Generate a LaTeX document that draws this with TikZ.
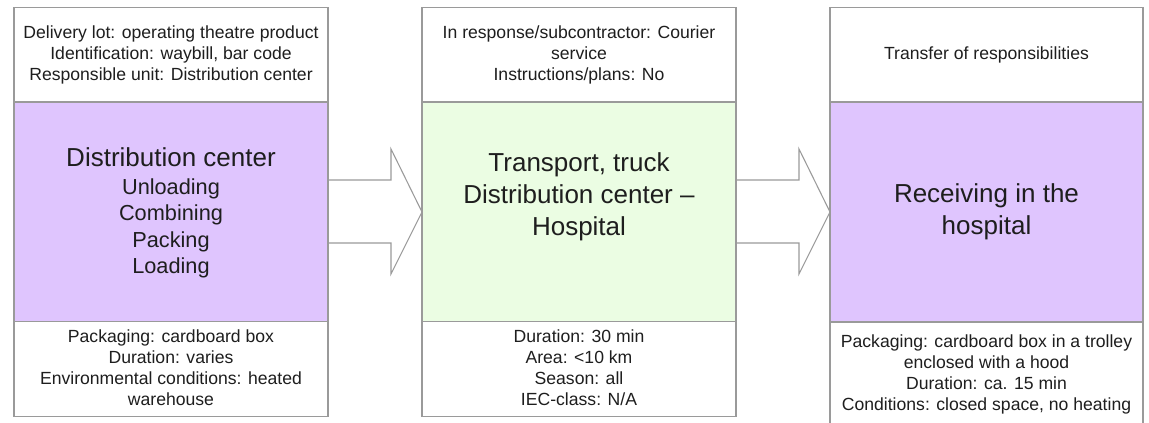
\documentclass[tikz,border=0pt]{standalone}
\usepackage{fontspec}
\setmainfont{Liberation Sans}
\usetikzlibrary{calc}
\definecolor{lpurple}{HTML}{DFC5FE}
\definecolor{lgreen}{HTML}{EBFDE3}
\definecolor{edge}{HTML}{9A9A9A}
\definecolor{ink}{HTML}{1E1E1E}
\tikzset{
 box/.style={draw=edge, line width=0.8pt, inner sep=0pt, outer sep=0pt, minimum width=235.5pt},
 infobox/.style={box, fill=white, minimum height=70.8pt},
 mainbox/.style={box, minimum height=165pt},
 small/.style={text=ink, align=center, font=\fontsize{13.2pt}{15.75pt}\selectfont, inner sep=0pt},
 big/.style={text=ink, align=center, font=\fontsize{19.5pt}{24pt}\selectfont, inner sep=0pt},
 mid/.style={text=ink, align=center, font=\fontsize{16.3pt}{19.9pt}\selectfont, inner sep=0pt},
 flow/.style={draw=edge, line width=0.8pt, line join=miter},
}
\begin{document}
\begin{tikzpicture}[x=0.75pt,y=-0.75pt]
\useasboundingbox (0,0) rectangle (1149,423);
\clip (0,0) rectangle (1149,423);
\fill[white] (0,0) rectangle (1149,423);
% column 1
\node[infobox] (t1) at (171,54.75) {};
\node[mainbox, fill=lpurple] (m1) at (171,212) {};
\node[infobox] (b1) at (171,369) {};
% column 2
\node[infobox] (t2) at (579,54.75) {};
\node[mainbox, fill=lgreen] (m2) at (579,212) {};
\node[infobox] (b2) at (579,369) {};
% column 3
\node[infobox, minimum width=234.75pt] (t3) at (986.5,54.75) {};
\node[mainbox, fill=lpurple, minimum width=234.75pt] (m3) at (986.5,212) {};
\node[box, fill=white, minimum width=234.75pt, minimum height=103.5pt] (b3) at (986.5,391) {};
% texts
\node[small] (t1txt) at (t1) {Delivery lot: operating theatre product\\Identification: waybill, bar code\\Responsible unit: Distribution center};
\node[mid] (m1txt) at (171,213) {{\fontsize{19.5pt}{24pt}\selectfont Distribution center}\\[1pt]Unloading\\Combining\\Packing\\Loading};
\node[small] (b1txt) at (171,367.5) {Packaging: cardboard box\\Duration: varies\\Environmental conditions: heated\\warehouse};
\node[small] (t2txt) at (t2) {In response/subcontractor: Courier\\service\\Instructions/plans: No};
\node[big] (m2txt) at (579,197) {Transport, truck\\Distribution center –\\Hospital};
\node[small] (b2txt) at (579,367.5) {Duration: 30 min\\Area: <10 km\\Season: all\\IEC-class: N/A};
\node[small] (t3txt) at (t3) {Transfer of responsibilities};
\node[big] (m3txt) at (986.5,212) {Receiving in the\\hospital};
\node[small] (b3txt) at (986.5,374.5) {Packaging: cardboard box in a trolley\\enclosed with a hood\\Duration: ca. 15 min\\Conditions: closed space, no heating};
% arrows
\draw[flow] ($(m1.east)+(0,-32)$) -- ($(m1.east)+(63,-32)$) -- ($(m1.east)+(63,-63)$) -- (m2.west) -- ($(m1.east)+(63,62)$) -- ($(m1.east)+(63,31)$) -- ($(m1.east)+(0,31)$);
\draw[flow] ($(m2.east)+(0,-32)$) -- ($(m2.east)+(63,-32)$) -- ($(m2.east)+(63,-63)$) -- (m3.west) -- ($(m2.east)+(63,62)$) -- ($(m2.east)+(63,31)$) -- ($(m2.east)+(0,31)$);
\end{tikzpicture}
\end{document}
